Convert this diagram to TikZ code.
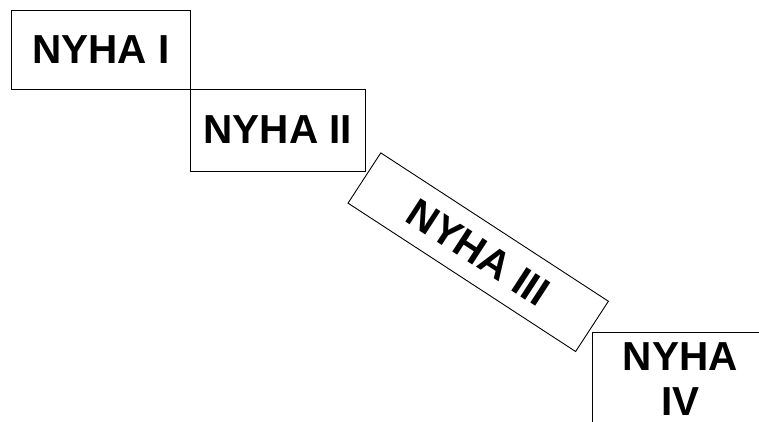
\documentclass[tikz,border=0pt]{standalone}
\usepackage{fontspec}
\setmainfont{Liberation Sans}
\begin{document}
\begin{tikzpicture}[x=1pt,y=1pt,
  stage/.style={draw=black, line width=0.9pt, fill=white, inner sep=0pt,
    font=\fontsize{40.5}{45}\selectfont\bfseries, align=center}]
  \useasboundingbox (0,0) rectangle (759,421);
  \clip (0,0) rectangle (759,421);
  % four NYHA classes stepping down to the right
  \node[stage, minimum width=178.3pt, minimum height=79pt] (c1) at (100.8,371.5) {NYHA I};
  \node[stage, minimum width=175.7pt, minimum height=82pt] (c2) at (277.8,291) {NYHA II};
  \node[stage, minimum width=271.7pt, minimum height=60pt, rotate=-33.1] (c3) at (478.2,168.8) {NYHA III};
  \node[stage, minimum width=176pt, minimum height=94pt, anchor=north west] (c4) at (591.7,89.3) {NYHA\\IV};
\end{tikzpicture}
\end{document}
